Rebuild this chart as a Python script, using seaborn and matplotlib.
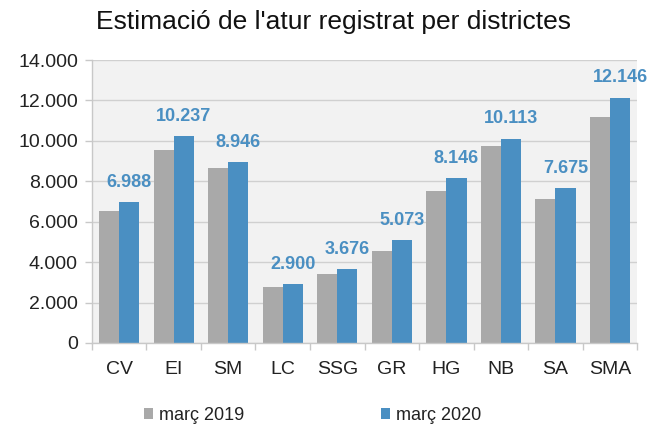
import pandas as pd
import matplotlib
matplotlib.use("Agg")
import matplotlib.pyplot as plt
import seaborn as sns

districtes = ['CV', 'EI', 'SM', 'LC', 'SSG', 'GR', 'HG', 'NB', 'SA', 'SMA']
marc_2019 = [6550, 9540, 8660, 2780, 3430, 4550, 7520, 9760, 7110, 11190]
marc_2020 = [6988, 10237, 8946, 2900, 3676, 5073, 8146, 10113, 7675, 12146]
series = ['març 2019', 'març 2020']

df = pd.DataFrame({
    'districte': districtes * 2,
    'periode': [series[0]] * len(districtes) + [series[1]] * len(districtes),
    'atur': marc_2019 + marc_2020,
})

sns.set_theme(style='white')
plt.rcParams['font.family'] = ['Liberation Sans', 'DejaVu Sans']

gris = '#a9a9a9'
blau = '#4a8fc2'

fig = plt.figure(figsize=(6.61, 4.26), dpi=100)
ax = fig.add_axes([0.139, 0.195, 0.825, 0.664])
ax.set_facecolor('#f2f2f2')

sns.barplot(data=df, x='districte', y='atur', hue='periode',
            palette=[gris, blau], width=0.74, saturation=1,
            linewidth=0, ax=ax, legend=True)

def punt_milers(v):
    return f"{v:,.0f}".replace(',', '.')

ax.bar_label(ax.containers[1], labels=[punt_milers(v) for v in marc_2020],
             padding=8, color=blau, fontsize=13, fontweight='bold')

ax.set_ylim(0, 14000)
ax.set_yticks(range(0, 14001, 2000))
ax.set_yticklabels([punt_milers(v) for v in range(0, 14001, 2000)])
ax.set_xlim(-0.5, len(districtes) - 0.5)
ax.yaxis.grid(True, color='#d0d0d0', linewidth=1)
ax.set_axisbelow(True)

for s in ['top', 'right']:
    ax.spines[s].set_visible(False)
for s in ['left', 'bottom']:
    ax.spines[s].set_color('#c8c8c8')
    ax.spines[s].set_linewidth(1)

ax.set_xticks([i - 0.5 for i in range(len(districtes) + 1)], minor=True)
ax.tick_params(axis='x', which='major', length=0, pad=13, labelsize=14, colors='#222222')
ax.tick_params(axis='x', which='minor', length=5, color='#c8c8c8', width=1, bottom=True)
ax.tick_params(axis='y', length=5, color='#c8c8c8', width=1, left=True, pad=5,
               labelsize=14, colors='#222222')
ax.set_xlabel('')
ax.set_ylabel('')

handles, labels = ax.get_legend_handles_labels()
ax.get_legend().remove()
fig.legend(handles, labels, loc='center', bbox_to_anchor=(0.473, 0.025), ncol=2,
           frameon=False, fontsize=13, handlelength=0.5, handleheight=0.5,
           handletextpad=0.3, columnspacing=7.6, labelcolor='#222222')

fig.text(0.505, 0.948, "Estimació de l'atur registrat per districtes",
         ha='center', va='center', fontsize=19, color='#111111')

fig.savefig('out.png', dpi=100)
